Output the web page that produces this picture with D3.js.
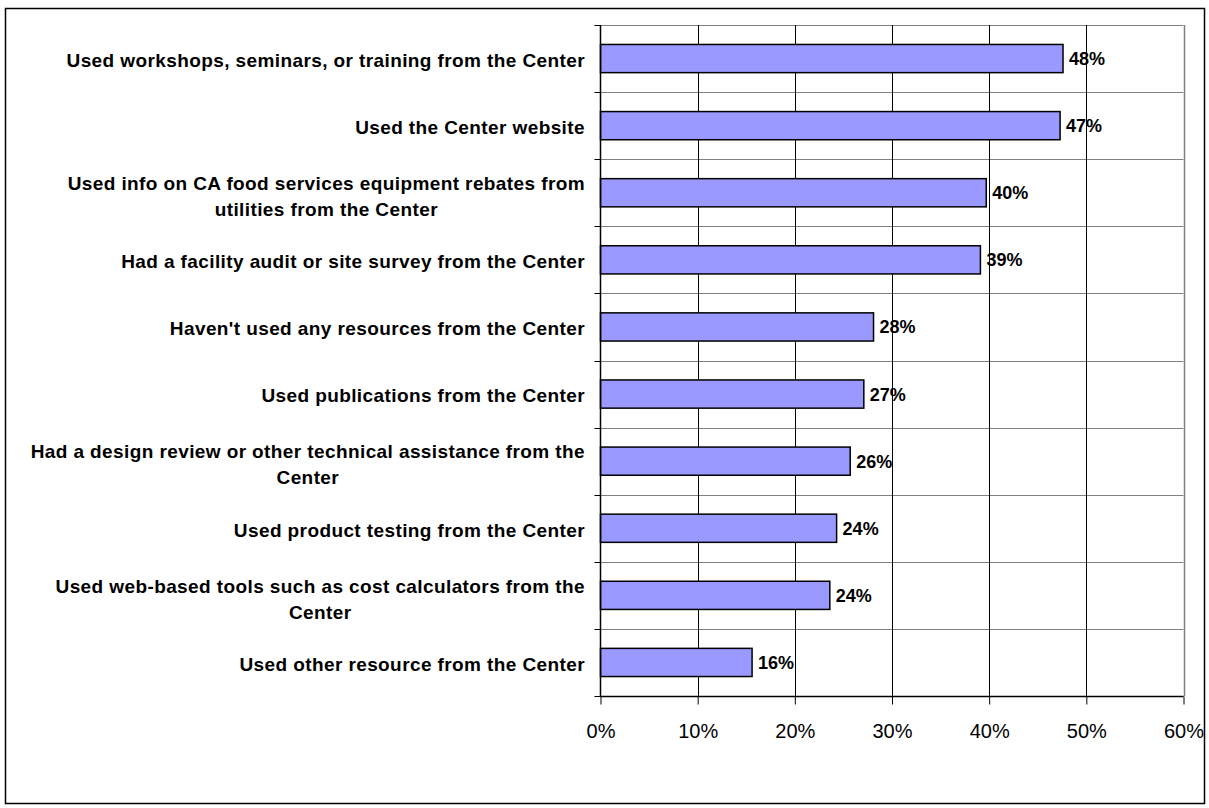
<!DOCTYPE html>
<html>
<head>
<meta charset="utf-8">
<script src="https://cdn.jsdelivr.net/npm/d3@7"></script>
<style>
  html, body { margin: 0; padding: 0; background: #fff; }
  svg { display: block; }
  text { font-family: "Liberation Sans", Arial, sans-serif; fill: #000; }
</style>
</head>
<body>
<svg id="chart" width="1209" height="808"></svg>
<script>
// Resources used from the Center (share of respondents)
const categories = [
  "Used workshops, seminars, or training from the Center",
  "Used the Center website",
  "Used info on CA food services equipment rebates from\nutilities from the Center",
  "Had a facility audit or site survey from the Center",
  "Haven't used any resources from the Center",
  "Used publications from the Center",
  "Had a design review or other technical assistance from the\nCenter",
  "Used product testing from the Center",
  "Used web-based tools such as cost calculators from the\nCenter",
  "Used other resource from the Center"
];
const values = [0.476, 0.473, 0.397, 0.391, 0.281, 0.271, 0.257, 0.243, 0.236, 0.156];
const xTicks = [0, 0.1, 0.2, 0.3, 0.4, 0.5, 0.6];

const svg = d3.select("#chart");

// outer frame
svg.append("rect")
  .attr("x", 5.5).attr("y", 8.5)
  .attr("width", 1199).attr("height", 795)
  .attr("fill", "#fff").attr("stroke", "#000").attr("stroke-width", 1.5);

const plot = { left: 600.5, right: 1183.5, top: 25, bottom: 696 };

const x = d3.scaleLinear().domain([0, 0.6]).range([plot.left, plot.right]);
const y = d3.scaleBand().domain(categories)
  .range([plot.top, plot.bottom])
  .paddingInner(0.58).paddingOuter(0.29);

const step = y.step();
const boundaries = d3.range(categories.length + 1).map(i => plot.top + i * step);

// horizontal gridlines at category boundaries
svg.append("g").selectAll("line").data(boundaries).join("line")
  .attr("x1", plot.left).attr("x2", plot.right)
  .attr("y1", d => Math.round(d) + 0.5).attr("y2", d => Math.round(d) + 0.5)
  .attr("stroke", "#808080").attr("stroke-width", 1);

// vertical gridlines
svg.append("g").selectAll("line").data(xTicks.slice(1, -1)).join("line")
  .attr("x1", d => Math.round(x(d)) + 0.5).attr("x2", d => Math.round(x(d)) + 0.5)
  .attr("y1", plot.top).attr("y2", plot.bottom)
  .attr("stroke", "#000").attr("stroke-width", 1);

// right border of plot area
svg.append("line")
  .attr("x1", Math.round(plot.right) + 0.5).attr("x2", Math.round(plot.right) + 0.5)
  .attr("y1", plot.top).attr("y2", plot.bottom)
  .attr("stroke", "#808080").attr("stroke-width", 1.5);

// bars
svg.append("g").selectAll("rect").data(values).join("rect")
  .attr("x", x(0))
  .attr("y", (d, i) => y(categories[i]))
  .attr("width", d => x(d) - x(0))
  .attr("height", y.bandwidth())
  .attr("fill", "#9999ff")
  .attr("stroke", "#000").attr("stroke-width", 1.5);

// value labels
const fmt = d3.format(".0%");
svg.append("g").selectAll("text").data(values).join("text")
  .attr("x", d => x(d) + 6)
  .attr("y", (d, i) => y(categories[i]) + y.bandwidth() / 2)
  .attr("dy", "0.36em")
  .attr("font-size", 18).attr("font-weight", "bold")
  .text(d => fmt(d));

// category axis (left)
svg.append("line")
  .attr("x1", plot.left).attr("x2", plot.left)
  .attr("y1", plot.top).attr("y2", plot.bottom + 1)
  .attr("stroke", "#000").attr("stroke-width", 1.5);
svg.append("g").selectAll("line").data(boundaries).join("line")
  .attr("x1", plot.left - 6).attr("x2", plot.left)
  .attr("y1", d => Math.round(d) + 0.5).attr("y2", d => Math.round(d) + 0.5)
  .attr("stroke", "#000").attr("stroke-width", 1);

// category labels: wrapped lines centred as a block, right edge near the axis
const labelRight = 585;
const lineH = 26;
const labelG = svg.append("g");
categories.forEach(c => {
  const lines = c.split("\n");
  const t = labelG.append("text")
    .attr("font-size", 19).attr("font-weight", "bold")
    .attr("letter-spacing", 0.4)
    .attr("text-anchor", "middle");
  lines.forEach(ln => {
    t.append("tspan").text(ln);
  });
  // measure widest line
  let maxW = 0;
  t.selectAll("tspan").each(function () {
    maxW = Math.max(maxW, this.getComputedTextLength());
  });
  const cx = labelRight - maxW / 2;
  const cy = y(c) + y.bandwidth() / 2 + 1.5;
  const y0 = cy - (lines.length - 1) * (lineH / 2 - 2);
  t.selectAll("tspan")
    .attr("x", cx)
    .attr("y", (d, j) => y0 + j * lineH)
    .attr("dy", "0.36em");
});

// value axis (bottom)
const xAxis = d3.axisBottom(x).tickValues(xTicks).tickFormat(d3.format(".0%"))
  .tickSize(8).tickPadding(19);
const gx = svg.append("g")
  .attr("transform", `translate(0,${plot.bottom + 0.5})`)
  .call(xAxis);
gx.select(".domain").attr("stroke", "#000").attr("stroke-width", 1.5)
  .attr("d", `M${plot.left},0H${plot.right}`);
gx.selectAll(".tick line").attr("stroke", "#000").attr("stroke-width", 1);
gx.selectAll(".tick text")
  .attr("font-size", 20)
  .attr("font-family", "'Liberation Sans', Arial, sans-serif")
  .attr("fill", "#000");
</script>
</body>
</html>
